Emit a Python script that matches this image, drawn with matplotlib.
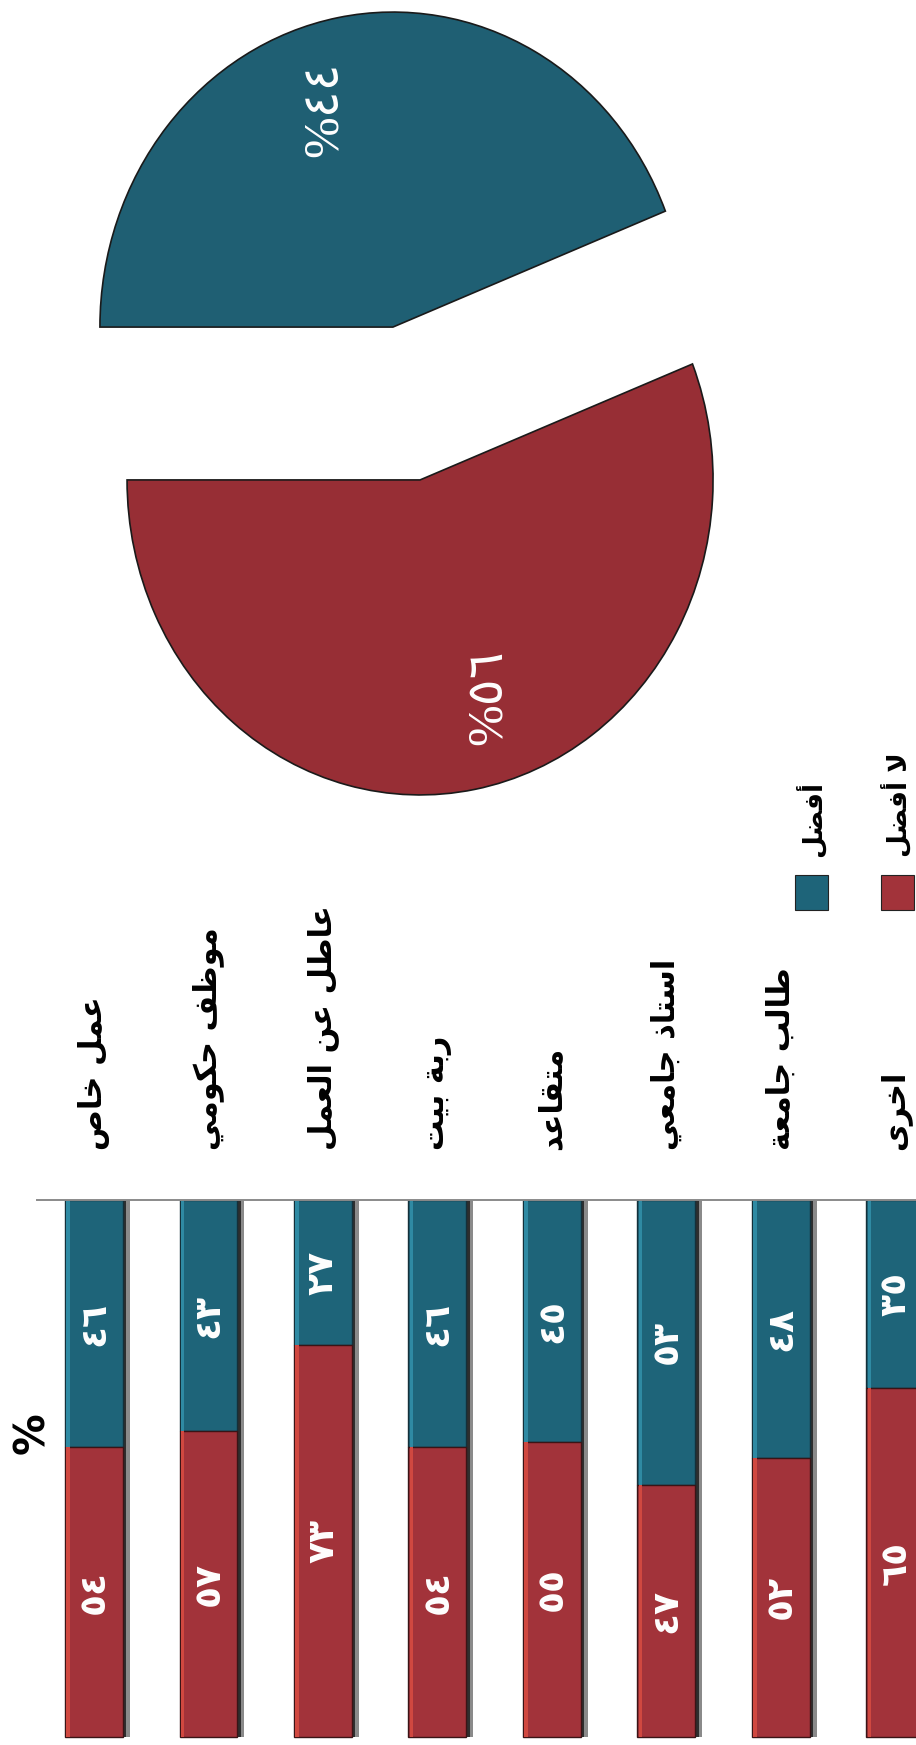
import math
import matplotlib
matplotlib.use("Agg")
import matplotlib.pyplot as plt
from matplotlib.patches import Rectangle

# ---------------- data ----------------
categories = ["عمل خاص", "موظف حكومي", "عاطل عن العمل", "ربة بيت",
              "متقاعد", "استاذ جامعي", "طالب جامعة", "اخرى"]
prefer = [46, 43, 27, 46, 45, 53, 48, 35]          # أفضل (teal)
not_prefer = [54, 57, 73, 54, 55, 47, 52, 65]      # لا أفضل (red)
legend_labels = ["أفضل", "لا أفضل"]
pie_values = [44, 56]                               # أفضل , لا أفضل
unit_label = "%"

TEAL = "#1e6479"
TEAL_LIGHT = "#2f8aa3"
RED = "#a2333a"
RED_LIGHT = "#d04840"
PIE_TEAL = "#1f5f73"
PIE_RED = "#972e35"

# ---------------- Arabic shaping (presentation forms) ----------------
FORMS = {
    'ا': ('\uFE8D', '\uFE8E', None, None),
    'أ': ('\uFE83', '\uFE84', None, None),
    'ب': ('\uFE8F', '\uFE90', '\uFE91', '\uFE92'),
    'ة': ('\uFE93', '\uFE94', None, None),
    'ت': ('\uFE95', '\uFE96', '\uFE97', '\uFE98'),
    'ج': ('\uFE9D', '\uFE9E', '\uFE9F', '\uFEA0'),
    'ح': ('\uFEA1', '\uFEA2', '\uFEA3', '\uFEA4'),
    'خ': ('\uFEA5', '\uFEA6', '\uFEA7', '\uFEA8'),
    'د': ('\uFEA9', '\uFEAA', None, None),
    'ذ': ('\uFEAB', '\uFEAC', None, None),
    'ر': ('\uFEAD', '\uFEAE', None, None),
    'س': ('\uFEB1', '\uFEB2', '\uFEB3', '\uFEB4'),
    'ص': ('\uFEB9', '\uFEBA', '\uFEBB', '\uFEBC'),
    'ض': ('\uFEBD', '\uFEBE', '\uFEBF', '\uFEC0'),
    'ط': ('\uFEC1', '\uFEC2', '\uFEC3', '\uFEC4'),
    'ظ': ('\uFEC5', '\uFEC6', '\uFEC7', '\uFEC8'),
    'ع': ('\uFEC9', '\uFECA', '\uFECB', '\uFECC'),
    'ف': ('\uFED1', '\uFED2', '\uFED3', '\uFED4'),
    'ق': ('\uFED5', '\uFED6', '\uFED7', '\uFED8'),
    'ك': ('\uFED9', '\uFEDA', '\uFEDB', '\uFEDC'),
    'ل': ('\uFEDD', '\uFEDE', '\uFEDF', '\uFEE0'),
    'م': ('\uFEE1', '\uFEE2', '\uFEE3', '\uFEE4'),
    'ن': ('\uFEE5', '\uFEE6', '\uFEE7', '\uFEE8'),
    'و': ('\uFEED', '\uFEEE', None, None),
    'ى': ('\uFEEF', '\uFEF0', None, None),
    'ي': ('\uFEF1', '\uFEF2', '\uFEF3', '\uFEF4'),
}
LAMALEF = {'ا': ('\uFEFB', '\uFEFC'), 'أ': ('\uFEF7', '\uFEF8')}


def shape(text):
    res = []
    i = 0
    prev_join = False
    while i < len(text):
        c = text[i]
        nxt = text[i + 1] if i + 1 < len(text) else ''
        if c == 'ل' and nxt in LAMALEF:
            lig = LAMALEF[nxt]
            res.append(lig[1] if prev_join else lig[0])
            prev_join = False
            i += 2
            continue
        if c not in FORMS:
            res.append(c)
            prev_join = False
            i += 1
            continue
        iso, fin, ini, med = FORMS[c]
        join_next = ini is not None and nxt in FORMS
        if prev_join and join_next:
            f = med
        elif prev_join:
            f = fin
        elif join_next:
            f = ini
        else:
            f = iso
        res.append(f)
        prev_join = join_next
        i += 1
    return ''.join(reversed(res))


AR_DIGITS = str.maketrans("0123456789", "٠١٢٣٤٥٦٧٨٩")


def ar_num(v):
    return str(int(round(v))).translate(AR_DIGITS)


# ---------------- figure ----------------
W, H = 916, 1745
fig = plt.figure(figsize=(W / 100, H / 100), dpi=100)
fig.patch.set_facecolor("white")


def fx(px):
    return px / W


def fy(py):  # py measured from top
    return 1 - py / H


# ---------------- stacked bars (rotated layout) ----------------
bar_left_px, bar_top_px = 37, 1200
x0_px, step_px, bar_w_px = 94, 114.5, 58
zero_px, full_px = 1200, 1737
ax = fig.add_axes([fx(bar_left_px), 0, fx(W - bar_left_px), (H - bar_top_px) / H])
xs = list(range(len(categories)))
ax.set_xlim(-(x0_px - bar_left_px) / step_px, (W - x0_px) / step_px)
ymax = (H - zero_px) / (full_px - zero_px) * 100
ax.set_ylim(ymax, 0)
bw = bar_w_px / step_px
sw = 3.5 / step_px  # light bevel strip width

totals = [a + b for a, b in zip(prefer, not_prefer)]
ax.bar([x + 0.06 for x in xs], totals, width=bw, color="#8a8a8a", zorder=1)
ax.bar([x + 0.03 for x in xs], totals, width=bw, color="#2e2e2e", zorder=1.5)
ax.bar(xs, prefer, width=bw, color=TEAL, edgecolor="#14303a", linewidth=1.0, zorder=2)
ax.bar(xs, not_prefer, bottom=prefer, width=bw, color=RED, edgecolor="#3a1416",
       linewidth=1.0, zorder=2)
left_edges = [x - bw / 2 + sw / 2 + 0.01 for x in xs]
ax.bar(left_edges, prefer, width=sw, color=TEAL_LIGHT, linewidth=0, zorder=2.5)
ax.bar(left_edges, not_prefer, bottom=prefer, width=sw, color=RED_LIGHT,
       linewidth=0, zorder=2.5)

for x, a, b in zip(xs, prefer, not_prefer):
    ax.text(x, a / 2, ar_num(a), rotation=90, rotation_mode="anchor",
            ha="center", va="center", color="white", fontsize=26,
            fontweight="bold", family=["DejaVu Sans"], zorder=3)
    ax.text(x, a + b / 2, ar_num(b), rotation=90, rotation_mode="anchor",
            ha="center", va="center", color="white", fontsize=26,
            fontweight="bold", family=["DejaVu Sans"], zorder=3)

label_y = -(zero_px - 1150) / (full_px - zero_px) * 100
for x, c in zip(xs, categories):
    ax.text(x, label_y, shape(c), rotation=90, rotation_mode="anchor",
            ha="left", va="center", color="black", fontsize=22,
            fontweight="bold", family=["DejaVu Sans"], clip_on=False)

ax.text(-(x0_px - 32) / step_px, (1433 - zero_px) / (full_px - zero_px) * 100,
        unit_label, rotation=90, rotation_mode="anchor", ha="center",
        va="center", fontsize=30, fontweight="bold", color="black")

for s in ["left", "right", "bottom"]:
    ax.spines[s].set_visible(False)
ax.spines["top"].set_color("#8a8a8a")
ax.spines["top"].set_linewidth(1.4)
ax.set_xticks([])
ax.set_yticks([])
ax.patch.set_alpha(0)

# ---------------- legend ----------------
leg_colors = [TEAL, RED]
leg_x = [811, 897]
for lx, col, lab in zip(leg_x, leg_colors, legend_labels):
    fig.patches.append(Rectangle((fx(lx - 16), fy(910)), fx(33), 35 / H,
                                 transform=fig.transFigure, facecolor=col,
                                 edgecolor="#222222", linewidth=0.8))
    fig.text(fx(lx), fy(857), shape(lab), rotation=90, rotation_mode="anchor",
             ha="left", va="center", fontsize=19, fontweight="bold",
             family=["DejaVu Sans"], color="black")

# ---------------- exploded pie ----------------
cx, cy = 406.5, 403.5
rx, ry = 293, 315
lim = 1.4
pax = fig.add_axes([fx(cx - lim * rx), fy(cy + lim * ry), 2 * lim * rx / W,
                    2 * lim * ry / H])
wedges, _ = pax.pie(pie_values, colors=[PIE_TEAL, PIE_RED], startangle=180,
                    counterclock=False, explode=[0.247, 0.247], radius=1,
                    wedgeprops=dict(edgecolor="#1a1a1a", linewidth=1.2))
pax.set_aspect("auto")
pax.set_xlim(-lim, lim)
pax.set_ylim(-lim, lim)
pax.axis("off")

for w, v in zip(wedges, pie_values):
    mid = math.radians((w.theta1 + w.theta2) / 2 + 8)
    px = w.center[0] + 0.73 * math.cos(mid)
    py = w.center[1] + 0.73 * math.sin(mid)
    pax.text(px, py, "%" + ar_num(v), rotation=90, rotation_mode="anchor",
             ha="center", va="center", color="white", fontsize=36,
             family=["Liberation Serif", "DejaVu Sans"])

fig.savefig("out.png", dpi=100, facecolor="white")
